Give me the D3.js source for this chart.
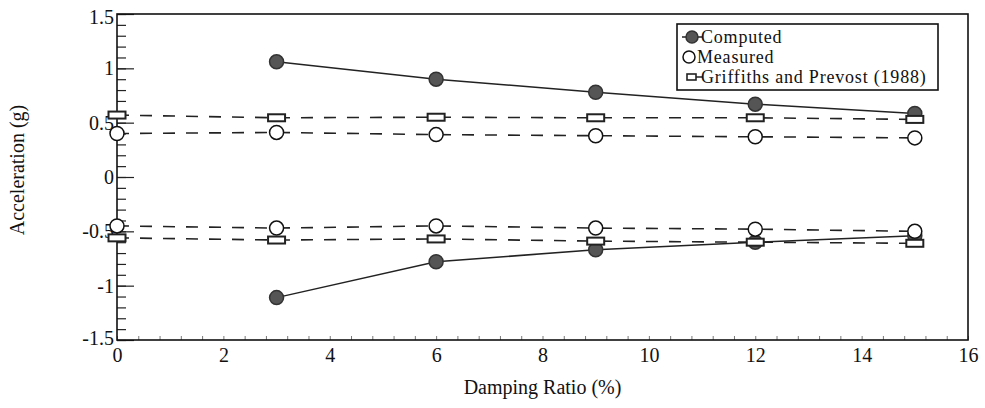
<!DOCTYPE html>
<html>
<head>
<meta charset="utf-8">
<script src="https://cdn.jsdelivr.net/npm/d3@7"></script>
<style>
  body { margin: 0; background: #fff; }
</style>
</head>
<body>
<div id="chart"></div>
<script>
// damping ratio (%) at which each series was read
var damping = [0, 3, 6, 9, 12, 15];
var computedDamping = [3, 6, 9, 12, 15];

// peak accelerations (g)
var computedMax = [1.06, 0.90, 0.78, 0.67, 0.585];
var computedMin = [-1.11, -0.78, -0.67, -0.60, -0.54];
var measuredMax = [0.40, 0.41, 0.39, 0.38, 0.37, 0.36];
var measuredMin = [-0.45, -0.47, -0.45, -0.47, -0.48, -0.50];
var griffithsMax = [0.57, 0.545, 0.55, 0.545, 0.545, 0.53];
var griffithsMin = [-0.56, -0.58, -0.57, -0.59, -0.60, -0.61];

var xTicks = [0, 2, 4, 6, 8, 10, 12, 14, 16];
var yTicks = [-1.5, -1, -0.5, 0, 0.5, 1, 1.5];
var legendLabels = ["Computed", "Measured", "Griffiths and Prevost (1988)"];

var serif = "'Liberation Serif', 'Times New Roman', 'DejaVu Serif', serif";

var fullWidth = 985;
var fullHeight = 408;
var margin = { left: 117, right: 17, top: 14, bottom: 68 };
var width = fullWidth - margin.left - margin.right;
var height = fullHeight - margin.top - margin.bottom;

var svg = d3.select("#chart")
    .append("svg")
    .attr("width", fullWidth)
    .attr("height", fullHeight)
    .attr("font-family", serif);

var g = svg.append("g")
    .attr("transform", "translate(" + margin.left + "," + margin.top + ")");

var x = d3.scaleLinear().domain([0, 16]).range([0, width]);
var y = d3.scaleLinear().domain([-1.5, 1.5]).range([height, 0]);

// minor ticks
var yMinor = d3.range(-15, 16).map(d => d / 10);
g.append("g")
    .call(d3.axisLeft(y).tickValues(yMinor).tickSize(-9).tickFormat(""))
    .call(a => a.select(".domain").remove())
    .selectAll("line").attr("stroke", "#222").attr("stroke-width", 1.2);

var xMinor = d3.range(0, 41).map(d => d * 0.4);
g.append("g")
    .attr("transform", "translate(0," + height + ")")
    .call(d3.axisBottom(x).tickValues(xMinor).tickSize(-4).tickFormat(""))
    .call(a => a.select(".domain").remove())
    .selectAll("line").attr("stroke", "#777").attr("stroke-width", 1);

// major ticks + labels
var yAxis = g.append("g")
    .call(d3.axisLeft(y).tickValues(yTicks).tickSize(-17).tickPadding(3)
        .tickFormat(d => String(d)));
yAxis.select(".domain").remove();
yAxis.selectAll("line").attr("stroke", "#222").attr("stroke-width", 1.2);
yAxis.selectAll("text")
    .style("font-family", serif)
    .style("font-size", "20px")
    .attr("fill", "#111")
    .attr("dy", "0.32em");
yAxis.selectAll(".tick").filter(d => d === 1.5).select("text").attr("dy", "0.45em");
yAxis.selectAll(".tick").filter(d => d === -1.5).select("text").attr("dy", "0.2em");

var xAxis = g.append("g")
    .attr("transform", "translate(0," + height + ")")
    .call(d3.axisBottom(x).tickValues(xTicks).tickSize(0).tickPadding(8)
        .tickFormat(d => String(d)));
xAxis.select(".domain").remove();
xAxis.selectAll("text")
    .style("font-family", serif)
    .style("font-size", "20px")
    .attr("fill", "#111");

// frame
g.append("rect")
    .attr("width", width)
    .attr("height", height)
    .attr("fill", "none")
    .attr("stroke", "#111")
    .attr("stroke-width", 1.6);

// axis titles
svg.append("text")
    .attr("transform", "translate(24,170) rotate(-90)")
    .attr("text-anchor", "middle")
    .style("font-family", serif)
    .style("font-size", "20px")
    .attr("fill", "#111")
    .text("Acceleration (g)");

svg.append("text")
    .attr("x", margin.left + x(8))
    .attr("y", 394)
    .attr("text-anchor", "middle")
    .style("font-family", serif)
    .style("font-size", "20px")
    .attr("fill", "#111")
    .text("Damping Ratio (%)");

// dashed reference lines
var line = d3.line().x(d => x(d[0])).y(d => y(d[1]));

[measuredMax, measuredMin, griffithsMax, griffithsMin].forEach(function (vals) {
    g.append("path")
        .datum(damping.map((d, i) => [d, vals[i]]))
        .attr("d", line)
        .attr("fill", "none")
        .attr("stroke", "#222")
        .attr("stroke-width", 1.6)
        .attr("stroke-dasharray", "12,11");
});

[computedMax, computedMin].forEach(function (vals) {
    g.append("path")
        .datum(computedDamping.map((d, i) => [d, vals[i]]))
        .attr("d", line)
        .attr("fill", "none")
        .attr("stroke", "#222")
        .attr("stroke-width", 1.5);
});

// markers
function circles(xs, vals, filled) {
    g.selectAll(null)
        .data(xs.map((d, i) => [d, vals[i]]))
        .enter()
        .append("circle")
        .attr("cx", d => x(d[0]))
        .attr("cy", d => y(d[1]))
        .attr("r", 7)
        .attr("fill", filled ? "#555" : "#fff")
        .attr("stroke", filled ? "#333" : "#111")
        .attr("stroke-width", 1.5);
}
function squares(xs, vals) {
    g.selectAll(null)
        .data(xs.map((d, i) => [d, vals[i]]))
        .enter()
        .append("rect")
        .attr("x", d => x(d[0]) - 8.5)
        .attr("y", d => y(d[1]) - 3.5)
        .attr("width", 17)
        .attr("height", 7)
        .attr("fill", "#fff")
        .attr("stroke", "#222")
        .attr("stroke-width", 2);
}

circles(computedDamping, computedMax, true);
circles(computedDamping, computedMin, true);
circles(damping, measuredMax, false);
circles(damping, measuredMin, false);
squares(damping, griffithsMax);
squares(damping, griffithsMin);

// legend
var legend = svg.append("g").attr("transform", "translate(677,24)");
legend.append("rect")
    .attr("width", 261)
    .attr("height", 66)
    .attr("fill", "#fff")
    .attr("stroke", "#111")
    .attr("stroke-width", 1.6);

var rowY = [13, 33, 53];
legend.append("line").attr("x1", 5).attr("x2", 25).attr("y1", rowY[0]).attr("y2", rowY[0])
    .attr("stroke", "#222").attr("stroke-width", 1.5);
legend.append("circle").attr("cx", 15).attr("cy", rowY[0]).attr("r", 6)
    .attr("fill", "#555").attr("stroke", "#333").attr("stroke-width", 1.5);
legend.append("circle").attr("cx", 12).attr("cy", rowY[1]).attr("r", 6)
    .attr("fill", "#fff").attr("stroke", "#111").attr("stroke-width", 1.5);
legend.append("line").attr("x1", 10).attr("x2", 26).attr("y1", rowY[2]).attr("y2", rowY[2])
    .attr("stroke", "#222").attr("stroke-width", 1.5);
legend.append("rect").attr("x", 10).attr("y", rowY[2] - 3).attr("width", 9).attr("height", 6)
    .attr("fill", "#fff").attr("stroke", "#222").attr("stroke-width", 1.6);

legend.selectAll("text.lab")
    .data(legendLabels)
    .enter()
    .append("text")
    .attr("class", "lab")
    .attr("x", (d, i) => i === 1 ? 20 : 24)
    .attr("y", (d, i) => rowY[i])
    .attr("dy", "0.35em")
    .style("font-family", serif)
    .style("font-size", "18px")
    .style("letter-spacing", "0.8px")
    .attr("fill", "#111")
    .text(d => d);
</script>
</body>
</html>
